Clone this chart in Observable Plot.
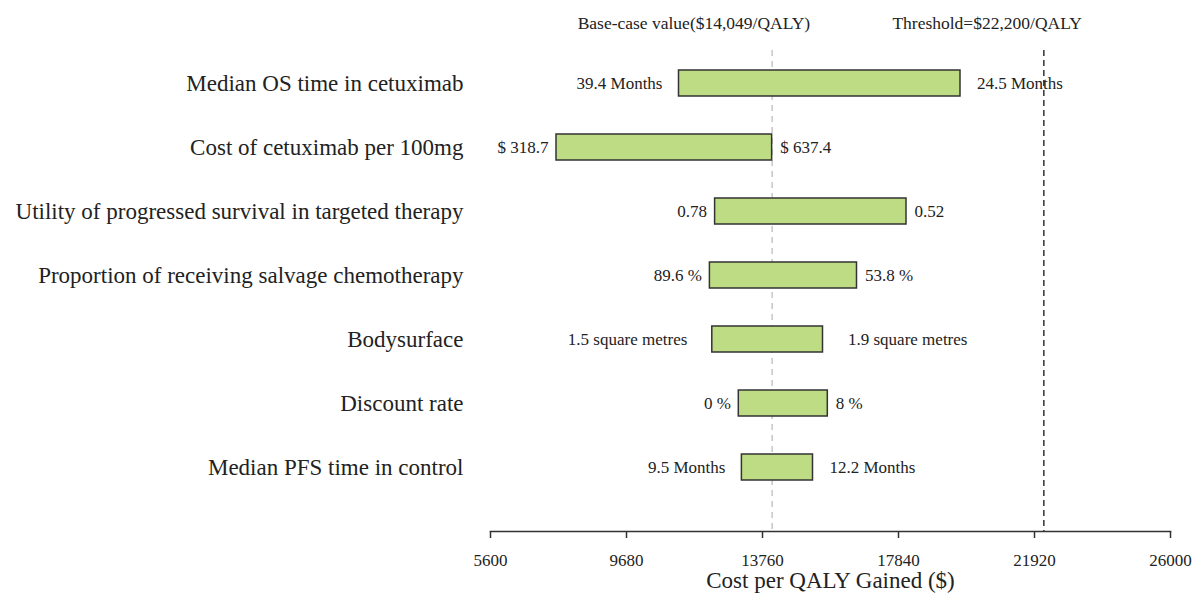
<!DOCTYPE html>
<html>
<head>
<meta charset="utf-8">
<script src="https://cdn.jsdelivr.net/npm/d3@7"></script>
<script src="https://cdn.jsdelivr.net/npm/@observablehq/plot@0.6"></script>
<style>
  html, body { margin: 0; padding: 0; background: #fff; }
  #chart svg { font-family: "Liberation Serif", "Times New Roman", serif; }
</style>
</head>
<body>
<div id="chart"></div>
<script>
const NB = "\u00a0";
const params = [
  "Median OS time in cetuximab",
  "Cost of cetuximab per 100mg",
  "Utility of progressed survival in targeted therapy",
  "Proportion of receiving salvage chemotherapy",
  "Bodysurface",
  "Discount rate",
  "Median PFS time in control"
];
const leftCost  = [11255, 7580, 12338, 12182, 12254, 13049, 13142];
const rightCost = [19700, 14049, 18080, 16595, 15575, 15719, 15275];
const leftLabel = ["39.4 Months" + NB + NB, "$ 318.7", "0.78", "89.6 %", "1.5 square metres" + NB + NB + NB + NB, "0 %", "9.5 Months" + NB + NB];
const rightLabel = [NB + NB + "24.5 Months", "$ 637.4", "0.52", "53.8 %", NB + NB + NB + NB + "1.9 square metres", "8 %", NB + NB + "12.2 Months"];
const xTicks = [5600, 9680, 13760, 17840, 21920, 26000];
const baseCase = 14049;
const threshold = 22200;
const baseLabel = "Base-case value($14,049/QALY)";
const thresholdLabel = "Threshold=$22,200/QALY";
const xTitle = "Cost per QALY Gained ($)";

const rows = params.map((p, i) => ({
  param: p, left: leftCost[i], right: rightCost[i],
  leftLabel: leftLabel[i], rightLabel: rightLabel[i]
}));

const chart = Plot.plot({
  width: 1197,
  height: 595,
  marginLeft: 490,
  marginRight: 27,
  marginTop: 50,
  marginBottom: 64,
  style: { fontFamily: "Liberation Serif, Times New Roman, serif", background: "#fff", color: "#222" },
  x: { domain: [5600, 26000] },
  y: { domain: params, range: [51, 499], paddingInner: 0.594, paddingOuter: 0.297 },
  marks: [
    Plot.ruleX([baseCase], { stroke: "#bdbdbd", strokeWidth: 1.3, strokeDasharray: "6,5" }),
    Plot.ruleX([threshold], { stroke: "#333", strokeWidth: 1.5, strokeDasharray: "6,4" }),
    Plot.barX(rows, { x1: "left", x2: "right", y: "param", fill: "#bedc84", stroke: "#333", strokeWidth: 1.5 }),
    Plot.text(rows, { x: "left", y: "param", text: "leftLabel", textAnchor: "end", dx: -8, fontSize: 17, fill: "#222" }),
    Plot.text(rows, { x: "right", y: "param", text: "rightLabel", textAnchor: "start", dx: 8, fontSize: 17, fill: "#222" }),
    Plot.frame({ anchor: "bottom", stroke: "#333", strokeWidth: 1.5 }),
    Plot.axisX({ ticks: xTicks, tickFormat: d => String(d), tickSize: 7, tickPadding: 15, fontSize: 17, label: null, stroke: "#333", strokeWidth: 1.5, color: "#222" }),
    Plot.axisY({ tickSize: 0, tickPadding: 27, fontSize: 23, label: null, color: "#222" }),
    Plot.text([baseLabel], { x: baseCase, frameAnchor: "top", dy: -34, textAnchor: "end", dx: 38, fontSize: 17.5, fill: "#222" }),
    Plot.text([thresholdLabel], { x: threshold, frameAnchor: "top", dy: -34, textAnchor: "end", dx: 38, fontSize: 17.5, fill: "#222" }),
    Plot.text([xTitle], { frameAnchor: "bottom", dy: 56, fontSize: 23, fill: "#222" })
  ]
});
document.getElementById("chart").appendChild(chart);
</script>
</body>
</html>
